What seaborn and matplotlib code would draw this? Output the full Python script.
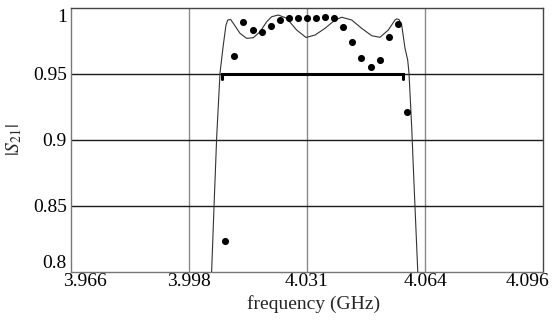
import matplotlib
matplotlib.use("Agg")
import matplotlib.pyplot as plt
import matplotlib.transforms as mtransforms
import pandas as pd
import seaborn as sns

# simulated |S21| (solid curve)
sim_freq = [4.0043, 4.00475, 4.00539, 4.00613, 4.00704, 4.00795, 4.00869, 4.0092,
            4.0100, 4.0107, 4.01255, 4.01439, 4.01621, 4.01806, 4.0199, 4.02128,
            4.0231, 4.02541, 4.02816, 4.03072, 4.0332, 4.03596, 4.03871, 4.04056,
            4.04331, 4.04606, 4.04882, 4.0511, 4.05339, 4.05524, 4.0557, 4.05635,
            4.05708, 4.05799, 4.05873, 4.05909, 4.05983, 4.06028, 4.06074, 4.06149,
            4.0618]
sim_s21 = [0.78, 0.8015, 0.8495, 0.9025, 0.9508, 0.9720, 0.9871, 0.9910,
           0.9912, 0.9884, 0.9808, 0.9770, 0.9775, 0.9820, 0.9896, 0.9934,
           0.9947, 0.9922, 0.9833, 0.9777, 0.9795, 0.9846, 0.9909, 0.9930,
           0.9909, 0.9846, 0.9790, 0.9778, 0.9833, 0.9909, 0.9918, 0.9912,
           0.9871, 0.9695, 0.9606, 0.9508, 0.9101, 0.8798, 0.8495, 0.8015,
           0.78]

# measured |S21| (dots)
meas_freq = [4.0085, 4.0110, 4.0135, 4.0160, 4.0185, 4.0210, 4.0235, 4.0260,
             4.0285, 4.0310, 4.0335, 4.0360, 4.0385, 4.0410, 4.0435, 4.0460,
             4.0485, 4.0510, 4.0535, 4.0560, 4.0585]
meas_s21 = [0.8235, 0.9636, 0.9892, 0.9833, 0.9816, 0.9861, 0.9909, 0.9927,
            0.9927, 0.9927, 0.9927, 0.9934, 0.9922, 0.9858, 0.9745, 0.9623,
            0.9551, 0.9606, 0.9783, 0.9879, 0.9214]

# passband bracket
band_lo, band_hi, band_level = 4.0075, 4.0575, 0.95

x_ticks = [3.966, 3.9985, 4.031, 4.0635, 4.096]
x_labels = ["3.966", "3.998", "4.031", "4.064", "4.096"]
y_ticks = [0.8, 0.85, 0.9, 0.95, 1.0]
y_labels = ["0.8", "0.85", "0.9", "0.95", "1"]

sns.set_theme(style="white")
plt.rcParams["font.family"] = ["Liberation Serif", "DejaVu Serif"]
plt.rcParams["mathtext.fontset"] = "stix"

sim = pd.DataFrame({"f": sim_freq, "s21": sim_s21})
meas = pd.DataFrame({"f": meas_freq, "s21": meas_s21})

fig = plt.figure(figsize=(5.53, 3.22), dpi=100)
ax = fig.add_axes([71 / 553, 50 / 322, 472 / 553, 264 / 322])

# grid lines
for xv in x_ticks[1:-1]:
    ax.axvline(xv, color="#8a8a8a", lw=1.0, zorder=1)
for yv in y_ticks[1:-1]:
    ax.axhline(yv, color="#1a1a1a", lw=1.0, zorder=1)

sns.lineplot(data=sim, x="f", y="s21", ax=ax, color="#333333", lw=0.8,
             sort=False, zorder=3)
sns.scatterplot(data=meas, x="f", y="s21", ax=ax, color="black", s=26,
                edgecolor="black", linewidth=0, zorder=4)

tick_h = 0.004
ax.plot([band_lo, band_lo, band_hi, band_hi],
        [band_level - tick_h, band_level, band_level, band_level - tick_h],
        color="black", lw=2.2, solid_joinstyle="miter", zorder=5)

ax.set_xlim(x_ticks[0], x_ticks[-1])
ax.set_ylim(y_ticks[0], y_ticks[-1])
ax.set_xticks(x_ticks)
ax.set_xticklabels(x_labels)
ax.set_yticks(y_ticks)
ax.set_yticklabels(y_labels)
ax.tick_params(axis="both", length=0, labelsize=14, colors="black")
ax.tick_params(axis="x", pad=1)
ax.tick_params(axis="y", pad=3)

# end labels pushed inward, like the original
def shift(lbl, dx, dy):
    lbl.set_transform(lbl.get_transform()
                      + mtransforms.ScaledTranslation(dx / 100, dy / 100, fig.dpi_scale_trans))

xl = ax.get_xticklabels()
shift(xl[0], 14, 0)
shift(xl[-1], -15, 0)
yl = ax.get_yticklabels()
shift(yl[0], 0, 10)
shift(yl[-1], 0, -7)

ax.set_xlabel("")
ax.set_ylabel("")
fig.text(314 / 553, 1 - 304 / 322, "frequency (GHz)", fontsize=14,
         ha="center", va="center")
fig.text(14 / 553, 1 - 140 / 322, r"$|S_{21}|$", fontsize=14,
         ha="center", va="center", rotation=90)

for side in ["left", "bottom"]:
    ax.spines[side].set_color("#777777")
for side in ["top", "right"]:
    ax.spines[side].set_color("#444444")
for sp in ax.spines.values():
    sp.set_linewidth(1.0)

fig.savefig("out.png", dpi=100)
